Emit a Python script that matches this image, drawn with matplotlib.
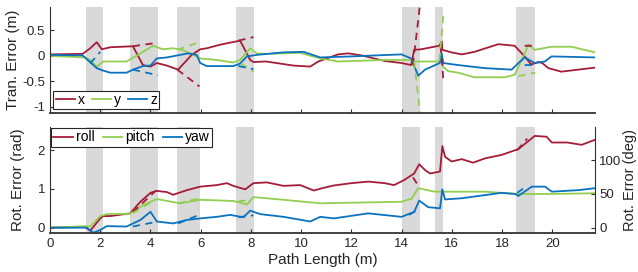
import numpy as np
import matplotlib
matplotlib.use("Agg")
import matplotlib.pyplot as plt

plt.rcParams['font.family'] = ['Liberation Sans', 'DejaVu Sans']

nan = np.nan

# gray regions (path length, m)
span_start = [1.43, 3.19, 5.07, 7.41, 14.0, 15.34, 18.55]
span_end = [2.10, 4.29, 5.98, 8.13, 14.73, 15.66, 19.32]

# translational error (m)
tx_x = [0, 1.3, 1.6, 1.86, 2.06, 2.4, 3.3, 3.7, 4.0, 4.25, 4.65, 5.1, 5.64, 5.98, 6.24, 6.77, 7.57, 7.97,
        8.1, 8.6, 9.7, 10.36, 10.68, 11.47, 11.87, 12.4, 13.33, 14.0, 14.38, 14.5, 14.78, 15.5, 15.6, 15.62,
        15.98, 16.4, 16.9, 17.85, 18.5, 18.9, 19.16, 19.44, 19.6, 19.84, 20.36, 21.7]
tx_v = [0.03, 0.04, 0.15, 0.27, 0.13, 0.17, 0.19, -0.18, -0.21, -0.14, -0.19, -0.27, 0.02, 0.13, 0.15, 0.22,
        0.30, -0.08, -0.12, -0.11, -0.19, -0.21, -0.11, 0.03, 0.05, 0.01, -0.10, -0.14, -0.18, 0.12, 0.13, 0.2,
        0.28, 0.12, 0.07, 0.03, 0.08, 0.23, 0.2, -0.01, -0.17, -0.12, -0.14, -0.24, -0.31, -0.23]

ty_x = [0, 1.4, 1.6, 1.86, 2.12, 3.05, 3.6, 4.1, 4.5, 4.9, 5.25, 5.64, 5.98, 6.64, 7.3, 7.57, 7.97, 8.23,
        8.63, 9.96, 10.76, 11.47, 13.33, 14.38, 14.5, 15.5, 15.6, 15.66, 15.86, 16.25, 16.9, 18.1, 18.5,
        18.85, 19.05, 19.3, 19.97, 20.76, 21.7]
ty_v = [0.0, -0.03, -0.08, -0.21, -0.11, -0.11, 0.05, 0.2, 0.13, 0.15, 0.12, 0.04, -0.05, -0.08, -0.13,
        -0.08, 0.15, 0.05, 0.04, 0.06, -0.05, -0.11, -0.08, -0.08, -0.11, -0.11, 0.02, -0.22, -0.30, -0.33,
        -0.42, -0.42, -0.37, -0.01, 0.22, 0.12, 0.18, 0.18, 0.07]

tz_x = [0, 1.3, 1.5, 1.86, 2.12, 2.4, 3.05, 3.3, 3.7, 4.0, 4.25, 4.65, 5.18, 5.5, 5.84, 5.98, 6.24, 7.3,
        7.57, 7.84, 8.23, 9.3, 10.1, 10.76, 12.0, 14.0, 14.38, 14.66, 14.93, 15.52, 15.59, 15.66, 16.25,
        17.3, 18.38, 18.65, 18.9, 19.3, 19.7, 19.97, 21.7]
tz_v = [0.02, 0.01, -0.08, -0.24, -0.29, -0.33, -0.33, -0.27, -0.2, -0.19, -0.05, -0.03, 0.02, 0.05, 0.02,
        -0.14, -0.2, -0.2, -0.15, -0.01, 0.02, 0.07, 0.08, -0.03, -0.01, 0.03, -0.05, -0.39, -0.27, -0.14,
        0.05, -0.14, -0.18, -0.24, -0.27, -0.14, -0.03, -0.14, -0.11, -0.01, -0.03]

# predicted (dashed) pieces, nan separated
tx_px = [3.3, 4.3, nan, 5.07, 5.95, nan, 7.5, 8.1, nan, 14.45, 14.73, nan, 15.55, 15.66, nan, 18.9, 19.3]
tx_pv = [0.19, 0.26, nan, -0.27, -0.6, nan, 0.30, 0.37, nan, -0.18, 1.0, nan, 0.2, -0.45, nan, 0.2, 0.2]
ty_px = [5.07, 5.95, nan, 7.6, 8.1, nan, 14.5, 14.73, nan, 15.5, 15.66, nan, 18.65, 19.32]
ty_pv = [0.12, 0.27, nan, -0.15, -0.31, nan, -0.1, -1.12, nan, -0.1, 0.8, nan, -0.4, -0.33]
tz_px = [1.6, 2.0, nan, 3.3, 4.3, nan, 7.5, 8.1, nan, 18.9, 19.3]
tz_pv = [-0.15, 0.08, nan, -0.27, -0.38, nan, -0.2, -0.26, nan, -0.18, -0.18]

# rotational error (rad)
rr_x = [0, 1.4, 1.6, 2.0, 2.12, 2.4, 3.19, 3.6, 4.0, 4.25, 4.65, 4.9, 5.45, 5.98, 6.64, 7.04, 7.3, 7.77,
        8.1, 8.63, 9.3, 9.96, 10.5, 10.9, 11.3, 12.0, 12.67, 13.33, 13.7, 14.1, 14.5, 14.7, 14.93, 15.13,
        15.53, 15.62, 15.73, 15.99, 16.39, 16.85, 17.32, 17.98, 18.65, 19.3, 19.77, 19.98, 20.6, 21.17, 21.7]
rr_v = [0.0, 0.02, -0.08, 0.24, 0.3, 0.3, 0.37, 0.67, 0.9, 0.95, 0.92, 0.85, 0.97, 1.06, 1.1, 1.15, 1.08,
        0.99, 1.15, 1.17, 1.08, 1.1, 0.96, 1.03, 1.09, 1.15, 1.19, 1.15, 1.1, 1.23, 1.4, 1.64, 1.49, 1.4,
        1.45, 2.11, 1.83, 1.71, 1.77, 1.68, 1.79, 1.88, 2.03, 2.37, 2.35, 2.2, 2.2, 2.14, 2.27]

rp_x = [0, 1.4, 1.6, 2.0, 2.26, 3.19, 3.72, 4.25, 5.18, 5.98, 7.3, 7.84, 8.1, 9.3, 10.76, 14.0, 14.4,
        14.66, 15.32, 17.3, 18.65, 19.98, 21.7]
rp_v = [0.0, 0.04, 0.03, 0.3, 0.35, 0.36, 0.59, 0.74, 0.63, 0.72, 0.69, 0.6, 0.79, 0.72, 0.63, 0.67, 0.75,
        1.02, 0.93, 0.93, 0.87, 0.87, 0.89]

ry_x = [0, 1.46, 1.73, 2.0, 2.26, 3.05, 3.6, 4.0, 4.25, 4.9, 5.45, 5.98, 6.64, 7.17, 7.7, 7.97, 8.37, 9.3,
        10.36, 10.76, 11.3, 12.67, 14.0, 14.5, 14.7, 15.06, 15.53, 15.62, 15.73, 16.39, 17.3, 17.98, 18.52,
        18.65, 19.18, 19.71, 19.98, 21.04, 21.7]
ry_v = [0.0, 0.0, -0.13, -0.06, 0.04, 0.03, 0.2, 0.41, 0.16, 0.11, 0.2, 0.24, 0.28, 0.33, 0.27, 0.44, 0.35,
        0.28, 0.16, 0.28, 0.24, 0.37, 0.28, 0.41, 0.7, 0.53, 0.5, 0.99, 0.73, 0.76, 0.84, 0.9, 0.87, 0.82,
        1.06, 1.06, 0.93, 0.97, 1.02]

rr_px = [3.3, 4.2, nan, 14.45, 14.65, nan, 18.6, 19.0]
rr_pv = [0.4, 0.95, nan, 1.3, 1.1, nan, 2.0, 2.3]
rp_px = [3.3, 4.2, nan, 5.1, 5.9, nan, 7.5, 8.0]
rp_pv = [0.38, 0.72, nan, 0.63, 0.75, nan, 0.68, 0.72]
ry_px = [3.3, 4.3, nan, 5.1, 5.9, nan, 7.5, 8.1, nan, 14.3, 14.6, nan, 18.6, 19.0]
ry_pv = [0.03, 0.16, nan, 0.11, 0.32, nan, 0.27, 0.32, nan, 0.33, 0.45, nan, 0.9, 1.08]

RED, GREEN, BLUE = '#A51C36', '#93CF4F', '#0A72C0'
AXC = '#333333'
lw = 1.3

fig = plt.figure(figsize=(6.38, 2.72), dpi=100)
ax1 = fig.add_axes([0.0784, 0.585, 0.8542, 0.389])
ax2 = fig.add_axes([0.0784, 0.143, 0.8542, 0.390])


def style(ax):
    for a, b in zip(span_start, span_end):
        ax.axvspan(a, b, color='#D9D9D9', lw=0, zorder=0)
    ax.set_xlim(0, 21.7)
    ax.set_xticks(np.arange(0, 21, 2))
    ax.tick_params(direction='in', length=3, colors=AXC, labelsize=9.5, labelcolor='#262626')
    ax.spines['top'].set_visible(False)
    ax.spines['right'].set_visible(False)
    for s in ('left', 'bottom'):
        ax.spines[s].set_color(AXC)
    ax.spines['bottom'].set_linewidth(1.3)


style(ax1)
ax1.plot(tx_x, tx_v, color=RED, lw=lw, label='x')
ax1.plot(ty_x, ty_v, color=GREEN, lw=lw, label='y')
ax1.plot(tz_x, tz_v, color=BLUE, lw=lw, label='z')
ax1.plot(tx_px, tx_pv, color=RED, lw=lw, ls=(0, (4, 3)))
ax1.plot(ty_px, ty_pv, color=GREEN, lw=lw, ls=(0, (4, 3)))
ax1.plot(tz_px, tz_pv, color=BLUE, lw=lw, ls=(0, (4, 3)))
ax1.set_ylim(-1.12, 0.96)
ax1.set_yticks([-1, -0.5, 0, 0.5])
ax1.set_yticklabels(['-1', '-0.5', '0', '0.5'])
ax1.tick_params(axis='x', labelbottom=False)
ax1.set_ylabel('Tran. Error (m)', fontsize=11, color='#262626', labelpad=2)
leg = ax1.legend(loc='lower left', ncol=3, fontsize=10, handlelength=1.4, handletextpad=0.2,
                 columnspacing=0.5, borderpad=0.15, borderaxespad=0.25, fancybox=False,
                 edgecolor='#262626', framealpha=1)
leg.get_frame().set_linewidth(0.8)

style(ax2)
ax2.plot(rr_x, rr_v, color=RED, lw=lw, label='roll')
ax2.plot(rp_x, rp_v, color=GREEN, lw=lw, label='pitch')
ax2.plot(ry_x, ry_v, color=BLUE, lw=lw, label='yaw')
ax2.plot(rr_px, rr_pv, color=RED, lw=lw, ls=(0, (4, 3)))
ax2.plot(rp_px, rp_pv, color=GREEN, lw=lw, ls=(0, (4, 3)))
ax2.plot(ry_px, ry_pv, color=BLUE, lw=lw, ls=(0, (4, 3)))
ax2.set_ylim(-0.14, 2.6)
ax2.set_yticks([0, 1, 2])
ax2.set_ylabel('Rot. Error (rad)', fontsize=11, color='#262626', labelpad=9)
ax2.set_xlabel('Path Length (m)', fontsize=11, color='#262626', labelpad=2)
leg = ax2.legend(loc='upper left', ncol=3, fontsize=10, handlelength=1.4, handletextpad=0.2,
                 columnspacing=0.6, borderpad=0.15, borderaxespad=0.1, fancybox=False,
                 edgecolor='#262626', framealpha=1)
leg.get_frame().set_linewidth(0.8)

ax3 = ax2.twinx()
ax3.set_ylim(np.degrees(-0.14), np.degrees(2.6))
ax3.set_yticks([0, 50, 100])
ax3.tick_params(direction='in', length=3, pad=3, colors=AXC, labelsize=9.5, labelcolor='#262626')
for s in ('top', 'left', 'bottom'):
    ax3.spines[s].set_visible(False)
ax3.spines['right'].set_color(AXC)
ax3.set_ylabel('Rot. Error (deg)', fontsize=10.5, color='#262626', labelpad=1)

fig.savefig('out.png', dpi=100)
